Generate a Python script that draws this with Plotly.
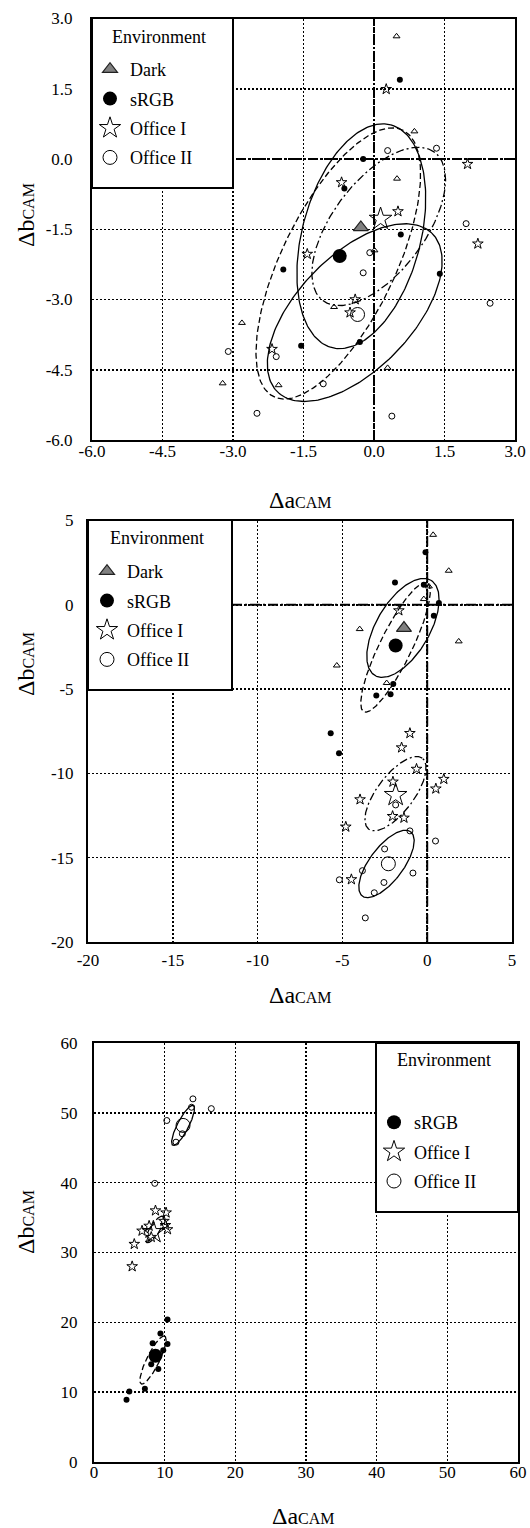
import numpy as np
import plotly.graph_objects as go

W, H = 530, 1528
FONT = "Liberation Serif, Times New Roman, serif"

# ---------------- Panel 1 data ----------------
p1_dark_x = [0.48, 0.86, 0.49, 0.01, -0.85, -2.81, 0.29, -2.03, -3.22]
p1_dark_y = [2.62, 0.59, -0.42, -1.95, -3.16, -3.50, -4.46, -4.83, -4.79]
p1_srgb_x = [0.55, -0.23, -0.63, 0.57, -1.93, 1.40, -0.30, -1.55]
p1_srgb_y = [1.69, 0.00, -0.63, -1.61, -2.36, -2.45, -3.91, -3.99]
p1_off1_x = [0.26, 1.99, -0.69, 0.51, 2.21, -1.42, -0.40, -0.51, -2.17]
p1_off1_y = [1.49, -0.11, -0.50, -1.12, -1.81, -2.03, -3.00, -3.28, -4.06]
p1_off2_x = [0.29, 1.33, 1.96, -0.09, -0.23, 2.47, -2.08, -3.10, -1.08, -2.49, 0.38]
p1_off2_y = [0.18, 0.23, -1.38, -2.00, -2.43, -3.08, -4.22, -4.11, -4.80, -5.43, -5.49]
p1_mean_x = [-0.28, -0.73, 0.14, -0.35]   # Dark, sRGB, Office I, Office II
p1_mean_y = [-1.46, -2.07, -1.28, -3.32]
# ellipses: Dark, sRGB, Office I, Office II
p1_ell_cx = [-0.27, -0.76, 0.10, -0.41]
p1_ell_cy = [-1.65, -2.23, -1.44, -3.28]
p1_ell_a = [2.46, 3.16, 1.98, 2.36]
p1_ell_b = [1.26, 1.21, 0.98, 1.22]
p1_ell_ang = [75.2, 64.3, 53.2, 46.0]
p1_ticks = [-6.0, -4.5, -3.0, -1.5, 0.0, 1.5, 3.0]
p1_ticktext = ["-6.0", "-4.5", "-3.0", "-1.5", "0.0", "1.5", "3.0"]

# ---------------- Panel 2 data ----------------
p2_dark_x = [0.35, 1.27, 0.10, -0.20, -3.98, 1.86, -5.33, -2.39]
p2_dark_y = [4.15, 2.02, 1.09, 0.34, -1.44, -2.17, -3.60, -4.64]
p2_srgb_x = [-0.10, -1.90, -0.20, 0.69, 0.39, -2.00, -3.00, -2.16, -5.69, -5.20]
p2_srgb_y = [3.12, 1.32, 1.19, 0.10, -0.65, -4.70, -5.38, -5.30, -7.62, -8.81]
p2_off1_x = [-1.67, -1.02, -1.51, -0.63, 0.98, 0.51, -2.02, -3.96, -2.04, -1.37, -4.80, -4.47]
p2_off1_y = [-0.34, -7.62, -8.47, -9.74, -10.34, -10.91, -10.50, -11.55, -12.54, -12.64, -13.17, -16.29]
p2_off2_x = [-1.86, -1.02, 0.49, -2.51, -3.82, -0.84, -5.18, -2.55, -3.12, -3.65]
p2_off2_y = [-11.87, -13.41, -14.01, -14.48, -15.77, -15.91, -16.31, -16.47, -17.08, -18.57]
p2_mean_x = [-1.37, -1.86, -1.86, -2.29]
p2_mean_y = [-1.38, -2.41, -11.29, -15.36]
p2_ell_cx = [-1.43, -1.87, -1.87, -2.40]
p2_ell_cy = [-1.37, -2.52, -11.20, -15.37]
p2_ell_a = [3.27, 4.25, 2.63, 2.38]
p2_ell_b = [1.57, 0.95, 1.09, 1.00]
p2_ell_ang = [59.8, 64.0, 53.1, 53.3]
p2_ticks = [-20, -15, -10, -5, 0, 5]
p2_ticktext = ["-20", "-15", "-10", "-5", "0", "5"]

# ---------------- Panel 3 data ----------------
p3_srgb_x = [10.4, 9.4, 8.3, 10.4, 9.8, 8.1, 9.1, 7.2, 5.0, 4.6]
p3_srgb_y = [20.4, 18.4, 17.0, 16.9, 16.0, 14.0, 13.3, 10.5, 10.1, 8.9]
p3_off1_x = [8.7, 10.2, 9.9, 10.1, 10.4, 7.8, 6.8, 8.1, 5.7, 5.4]
p3_off1_y = [36.0, 35.7, 34.5, 33.9, 33.3, 33.8, 33.1, 32.2, 31.2, 28.0]
p3_off2_x = [14.0, 13.8, 16.6, 10.3, 12.5, 11.6, 8.6]
p3_off2_y = [52.0, 50.8, 50.6, 48.9, 47.0, 45.8, 39.9]
p3_mean_x = [8.7, 8.4, 12.6]      # sRGB, Office I, Office II
p3_mean_y = [15.2, 32.9, 48.2]
p3_ell_cx = [8.35, 8.6, 12.6]
p3_ell_cy = [14.6, 33.3, 48.2]
p3_ell_a = [3.8, 2.2, 3.2]
p3_ell_b = [0.9, 0.7, 0.8]
p3_ell_ang = [64.0, 58.0, 63.0]
p3_ticks = [0, 10, 20, 30, 40, 50, 60]
p3_ticktext = ["0", "10", "20", "30", "40", "50", "60"]

names = ["Dark", "sRGB", "Office I", "Office II"]

# ---------------- styles ----------------
DASH = {"Dark": "solid", "sRGB": "6px,3px", "Office I": "8px,3px,2px,3px", "Office II": "solid"}
SMALL = {
    "Dark": dict(symbol="triangle-up-open", size=6, color="black", line=dict(width=1, color="black")),
    "sRGB": dict(symbol="circle", size=6, color="black"),
    "Office I": dict(symbol="star-open", size=8, color="black", line=dict(width=1, color="black")),
    "Office II": dict(symbol="circle-open", size=6, color="black", line=dict(width=1, color="black")),
}
BIG = {
    "Dark": dict(symbol="triangle-up", size=13, color="#808080", line=dict(width=1.2, color="#222")),
    "sRGB": dict(symbol="circle", size=14, color="black"),
    "Office I": dict(symbol="star-open", size=17, color="black", line=dict(width=1, color="black")),
    "Office II": dict(symbol="circle-open", size=14, color="black", line=dict(width=1, color="black")),
}


def ellipse(cx, cy, a, b, ang):
    t = np.linspace(0, 2 * np.pi, 240)
    th = np.deg2rad(ang)
    x = cx + a * np.cos(t) * np.cos(th) - b * np.sin(t) * np.sin(th)
    y = cy + a * np.cos(t) * np.sin(th) + b * np.sin(t) * np.cos(th)
    return x, y


fig = go.Figure()


def add_panel(idx, groups, means_x, means_y, ell, legend_name):
    xa = "x" if idx == 1 else f"x{idx}"
    ya = "y" if idx == 1 else f"y{idx}"
    cx, cy, ea, eb, eang = ell
    for k, (nm, gx, gy) in enumerate(groups):
        ex, ey = ellipse(cx[k], cy[k], ea[k], eb[k], eang[k])
        fig.add_trace(go.Scatter(x=ex, y=ey, mode="lines", xaxis=xa, yaxis=ya,
                                 line=dict(color="black", width=1.3, dash=DASH[nm]),
                                 showlegend=False, hoverinfo="skip"))
    for k, (nm, gx, gy) in enumerate(groups):
        fig.add_trace(go.Scatter(x=gx, y=gy, mode="markers", xaxis=xa, yaxis=ya,
                                 marker=SMALL[nm], showlegend=False, name=nm))
    for k, (nm, gx, gy) in enumerate(groups):
        fig.add_trace(go.Scatter(x=[means_x[k]], y=[means_y[k]], mode="markers",
                                 xaxis=xa, yaxis=ya, marker=BIG[nm], name=nm,
                                 legend=legend_name, legendgroup=f"{legend_name}{nm}",
                                 showlegend=True))


add_panel(1, [("Dark", p1_dark_x, p1_dark_y), ("sRGB", p1_srgb_x, p1_srgb_y),
              ("Office I", p1_off1_x, p1_off1_y), ("Office II", p1_off2_x, p1_off2_y)],
          p1_mean_x, p1_mean_y, (p1_ell_cx, p1_ell_cy, p1_ell_a, p1_ell_b, p1_ell_ang), "legend")
add_panel(2, [("Dark", p2_dark_x, p2_dark_y), ("sRGB", p2_srgb_x, p2_srgb_y),
              ("Office I", p2_off1_x, p2_off1_y), ("Office II", p2_off2_x, p2_off2_y)],
          p2_mean_x, p2_mean_y, (p2_ell_cx, p2_ell_cy, p2_ell_a, p2_ell_b, p2_ell_ang), "legend2")
add_panel(3, [("sRGB", p3_srgb_x, p3_srgb_y), ("Office I", p3_off1_x, p3_off1_y),
              ("Office II", p3_off2_x, p3_off2_y)],
          p3_mean_x, p3_mean_y, (p3_ell_cx, p3_ell_cy, p3_ell_a, p3_ell_b, p3_ell_ang), "legend3")


def px_x(p):
    return p / W


def px_y(p):
    return 1 - p / H


# panel pixel boxes: (left, right, top, bottom)
boxes = {1: (92, 515, 18.5, 440), 2: (88, 512, 520.5, 942), 3: (94, 518, 1043, 1462)}
ranges = {1: [-6, 3], 2: [-20, 5], 3: [0, 60]}
ticks = {1: (p1_ticks, p1_ticktext), 2: (p2_ticks, p2_ticktext), 3: (p3_ticks, p3_ticktext)}
xstand = {1: -5, 2: 2, 3: -6}
yticklen = {1: 14, 2: 9, 3: 11}

axis_common = dict(showgrid=True, gridcolor="black", griddash="2px,2px", gridwidth=1.5,
                   showline=True, linecolor="black", linewidth=2, mirror=True,
                   zeroline=False, automargin=False, fixedrange=True,
                   tickfont=dict(family=FONT, size=17, color="black"))

layout = dict(width=W, height=H, margin=dict(l=0, r=0, t=0, b=0), autosize=False,
              paper_bgcolor="white", plot_bgcolor="white", font=dict(family=FONT, color="black"))

for i in (1, 2, 3):
    l, r, t, b = boxes[i]
    xk = "xaxis" if i == 1 else f"xaxis{i}"
    yk = "yaxis" if i == 1 else f"yaxis{i}"
    tv, tt = ticks[i]
    layout[xk] = dict(axis_common, domain=[px_x(l), px_x(r)], range=ranges[i],
                      tickvals=tv, ticktext=tt, ticks="", ticklabelstandoff=xstand[i],
                      anchor="y" if i == 1 else f"y{i}")
    layout[yk] = dict(axis_common, domain=[px_y(b), px_y(t)], range=ranges[i],
                      tickvals=tv, ticktext=tt, ticks="outside", tickcolor="rgba(0,0,0,0)",
                      ticklen=yticklen[i], anchor="x" if i == 1 else f"x{i}")

fig.update_layout(**layout)

# zero reference lines (dash-dot) for panels 1 and 2
shapes = []
for i in (1, 2):
    xr = "x" if i == 1 else f"x{i}"
    yr = "y" if i == 1 else f"y{i}"
    shapes.append(dict(type="line", xref=xr, yref=f"{yr} domain", x0=0, x1=0, y0=0, y1=1,
                       line=dict(color="black", width=2, dash="10px,3px,2px,3px")))
    shapes.append(dict(type="line", xref=f"{xr} domain", yref=yr, x0=0, x1=1, y0=0, y1=0,
                       line=dict(color="black", width=2, dash="10px,3px,2px,3px")))

# legend boxes (pixel)
leg_boxes = {1: (92, 233, 18, 188), 2: (88, 232, 520, 690), 3: (376, 518, 1043, 1212)}
for i, (l, r, t, b) in leg_boxes.items():
    shapes.append(dict(type="rect", xref="paper", yref="paper",
                       x0=px_x(l), x1=px_x(r), y0=px_y(b), y1=px_y(t),
                       fillcolor="white", line=dict(color="black", width=2), layer="above"))
fig.update_layout(shapes=shapes)

leg_common = dict(bgcolor="rgba(0,0,0,0)", borderwidth=0, font=dict(family=FONT, size=18, color="black"),
                  xanchor="left", yanchor="top", tracegroupgap=3, traceorder="grouped",
                  itemclick=False, itemdoubleclick=False)
fig.update_layout(
    legend=dict(leg_common, x=px_x(90), y=px_y(51)),
    legend2=dict(leg_common, x=px_x(87), y=px_y(553)),
    legend3=dict(leg_common, x=px_x(374), y=px_y(1104)),
)

ann = []
title_x = "Δa<span style='font-size:16px'>CAM</span>"
title_y = "Δb<span style='font-size:16px'>CAM</span>"
for (lx, ly) in [(159, 37), (157, 538), (444, 1060)]:
    ann.append(dict(text="Environment", x=px_x(lx), y=px_y(ly), xref="paper", yref="paper",
                    showarrow=False, font=dict(family=FONT, size=18, color="black"),
                    xanchor="center", yanchor="middle"))
for (tx, ty) in [(300, 500), (300, 995), (303, 1516)]:
    ann.append(dict(text=title_x, x=px_x(tx), y=px_y(ty), xref="paper", yref="paper",
                    showarrow=False, font=dict(family=FONT, size=24, color="black"),
                    xanchor="center", yanchor="middle"))
for (tx, ty) in [(26, 215), (26, 664), (26, 1222)]:
    ann.append(dict(text=title_y, x=px_x(tx), y=px_y(ty), xref="paper", yref="paper",
                    showarrow=False, textangle=-90, font=dict(family=FONT, size=24, color="black"),
                    xanchor="center", yanchor="middle"))
fig.update_layout(annotations=ann)

fig.write_html("out.html", config={"displayModeBar": False, "staticPlot": True},
               post_script="document.body.style.margin='0';document.body.style.overflow='hidden';")
